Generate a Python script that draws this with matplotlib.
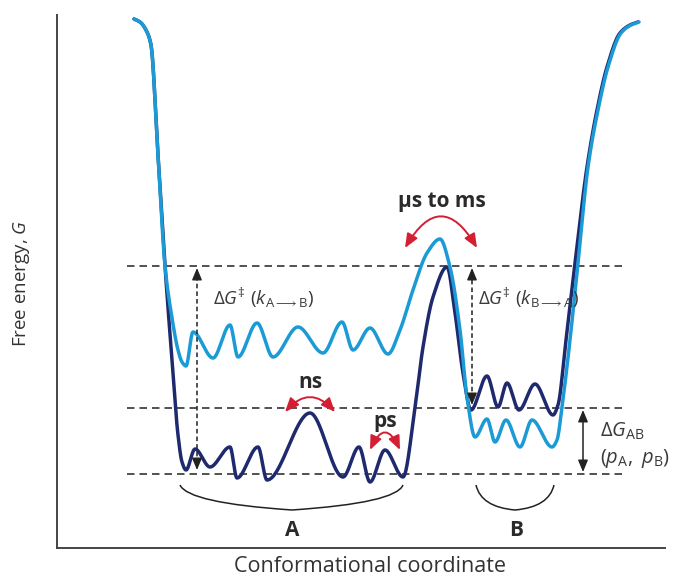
import numpy as np
import matplotlib
matplotlib.use('Agg')
import matplotlib.pyplot as plt
from matplotlib.path import Path
from matplotlib.patches import PathPatch

plt.rcParams['font.family'] = ['Open Sans', 'DejaVu Sans']
plt.rcParams['mathtext.fontset'] = 'custom'
plt.rcParams['mathtext.rm'] = 'Open Sans'
plt.rcParams['mathtext.it'] = 'Open Sans:italic'
plt.rcParams['mathtext.bf'] = 'Open Sans:bold'

# -------- Data (schematic knots) ---------------------------------------

# B-favoured landscape (dark) : x = conformational coordinate, G = free energy
navy_x = [77, 83, 90, 94, 101, 108, 115, 121, 125, 129,
          138, 153, 173, 180, 201, 210, 253, 286, 302, 313, 328, 346,
          358, 366, 376, 390, 398, 406, 414,
          430, 441, 450, 462, 478, 496,
          501, 509, 518, 530, 540, 550, 563, 573, 581]
navy_G = [529, 526, 516, 503, 393, 282, 188, 113, 86, 78,
          99, 81, 101, 70, 101, 68, 135, 71, 101, 66, 98, 71,
          140, 201, 251, 281, 235, 175, 138,
          172, 141, 165, 138, 164, 133,
          143, 208, 285, 381, 438, 481, 515, 523, 526]

# A-favoured landscape (light)
light_x = [77, 83, 90, 94, 101, 108, 115, 121, 125, 129,
           136, 156, 173, 181, 200, 216, 241, 266, 285, 296, 313, 331,
           343, 356, 370, 383, 393, 403, 410, 418,
           430, 438, 449, 463, 475, 495,
           500, 505, 513, 521, 531, 541, 551, 564, 574, 582]
light_G = [529, 526, 516, 503, 393, 282, 230, 198, 186, 182,
           216, 190, 223, 191, 225, 191, 221, 195, 226, 198, 220, 194,
           218, 258, 295, 309, 281, 218, 151, 111,
           129, 106, 128, 101, 128, 101,
           108, 141, 208, 285, 381, 438, 481, 515, 523, 526]

# reference free-energy levels (dashed)
levels_G = [282, 140, 74]
levels_x = [70, 566]

# barrier / difference arrows: x, G_low, G_high
dG_AB_arrow = (140, 78, 280)
dG_BA_arrow = (415, 143, 280)
dG_pop_arrow = (526, 76, 138)

# timescale arcs: (x_start, x_end, G)
arc_us = (348, 420, 300)
arc_ns = (228, 278, 136)
arc_ps = (313, 343, 98)

# basin braces: start, control, middle, control, end
brace_A = [(123, 63), (131, 45), (235, 38), (339, 45), (346, 63)]
brace_B = [(419, 63), (424, 41), (458, 38), (492, 41), (497, 63)]

navy = '#1f2a6e'
light = '#1b9ad6'
red = '#d41e33'
grey = '#333333'


def pchip(x, y, xs):
    # monotone cubic so extrema stay flat and nothing overshoots
    x = np.asarray(x, float); y = np.asarray(y, float)
    h = np.diff(x); d = np.diff(y) / h
    m = np.zeros_like(y)
    for k in range(1, len(x) - 1):
        if d[k - 1] * d[k] > 0:
            w1 = 2 * h[k] + h[k - 1]
            w2 = h[k] + 2 * h[k - 1]
            m[k] = (w1 + w2) / (w1 / d[k - 1] + w2 / d[k])
    m[0] = d[0]; m[-1] = d[-1]
    i = np.clip(np.searchsorted(x, xs) - 1, 0, len(x) - 2)
    t = (xs - x[i]) / h[i]
    h00 = 2*t**3 - 3*t**2 + 1; h10 = t**3 - 2*t**2 + t
    h01 = -2*t**3 + 3*t**2; h11 = t**3 - t**2
    return h00*y[i] + h10*h[i]*m[i] + h01*y[i+1] + h11*h[i]*m[i+1]


# -------- Plot ------------------

fig = plt.figure(figsize=(6.75, 5.77), dpi=100)
ax = fig.add_axes([57/675, 29/577, 608/675, 533/577])
ax.set_xlim(0, 608)
ax.set_ylim(0, 533)
for s in ['top', 'right']:
    ax.spines[s].set_visible(False)
for s in ['left', 'bottom']:
    ax.spines[s].set_color('#444444')
    ax.spines[s].set_linewidth(1.4)
ax.set_xticks([]); ax.set_yticks([])

dash = (0, (4.5, 3))
for g in levels_G:
    ax.plot(levels_x, [g, g], color=grey, lw=1.2, linestyle=dash, zorder=1)

xs = np.linspace(light_x[0], light_x[-1], 2000)
ax.plot(xs, pchip(light_x, light_G, xs), color=light, lw=2.5,
        solid_capstyle='round', zorder=3)
xs = np.linspace(navy_x[0], navy_x[-1], 2000)
ax.plot(xs, pchip(navy_x, navy_G, xs), color=navy, lw=2.5,
        solid_capstyle='round', zorder=2)

head = dict(arrowstyle='-|>,head_length=0.6,head_width=0.25', color='#222222',
            lw=1.0, shrinkA=0, shrinkB=0, mutation_scale=12)
for (x, g0, g1), ls in [(dG_AB_arrow, (0, (3, 2))), (dG_BA_arrow, (0, (3, 2))),
                        (dG_pop_arrow, '-')]:
    ax.plot([x, x], [g0 + 6, g1 - 6], color='#222222', lw=1.1, linestyle=ls, zorder=4)
    ax.annotate('', xy=(x, g0), xytext=(x, g0 + 8), arrowprops=head, zorder=4)
    ax.annotate('', xy=(x, g1), xytext=(x, g1 - 8), arrowprops=head, zorder=4)

for (x0, x1, g), rad in [(arc_us, -0.85), (arc_ns, -0.56), (arc_ps, -1.1)]:
    ax.annotate('', xy=(x1, g), xytext=(x0, g),
                arrowprops=dict(arrowstyle='<|-|>,head_length=0.6,head_width=0.25',
                                connectionstyle=f'arc3,rad={rad}', color=red,
                                lw=1.4, shrinkA=0, shrinkB=0, mutation_scale=14),
                zorder=5)

for br in [brace_A, brace_B]:
    codes = [Path.MOVETO, Path.CURVE3, Path.CURVE3, Path.CURVE3, Path.CURVE3]
    ax.add_patch(PathPatch(Path(br, codes), fill=False, edgecolor='#222222', lw=1.1))

txt = dict(color='#3a3a3a', fontsize=13.5)
ax.text(156, 250, r'$\Delta G^{\ddagger}\ (k_{\mathrm{A\longrightarrow B}})$', va='center', **txt)
ax.text(421, 250, r'$\Delta G^{\ddagger}\ (k_{\mathrm{B\longrightarrow A}})$', va='center', **txt)
ax.text(543, 117, r'$\Delta G_{\mathrm{AB}}$', va='center', fontsize=14.5, color='#3a3a3a')
ax.text(543, 89, r'$(p_{\mathrm{A}},\ p_{\mathrm{B}})$', va='center', clip_on=False,
        fontsize=14.5, color='#3a3a3a')

bold = dict(color='#2a2a2a', fontsize=15, fontweight='bold', ha='center', va='center')
ax.text(385, 347, 'μs to ms', **bold)
ax.text(253, 165, 'ns', **bold)
ax.text(328, 127, 'ps', **bold)
ax.text(235, 18, 'A', **bold)
ax.text(459, 18, 'B', **bold)

fig.text(22/675, 1 - 283/577, r'Free energy, $G$', rotation=90, ha='center',
         va='center', fontsize=13.5, color='#333333')
fig.text(370/675, 1 - 567/577, 'Conformational coordinate', ha='center',
         va='center', fontsize=15.5, color='#333333')

plt.savefig('out.png', dpi=100)
